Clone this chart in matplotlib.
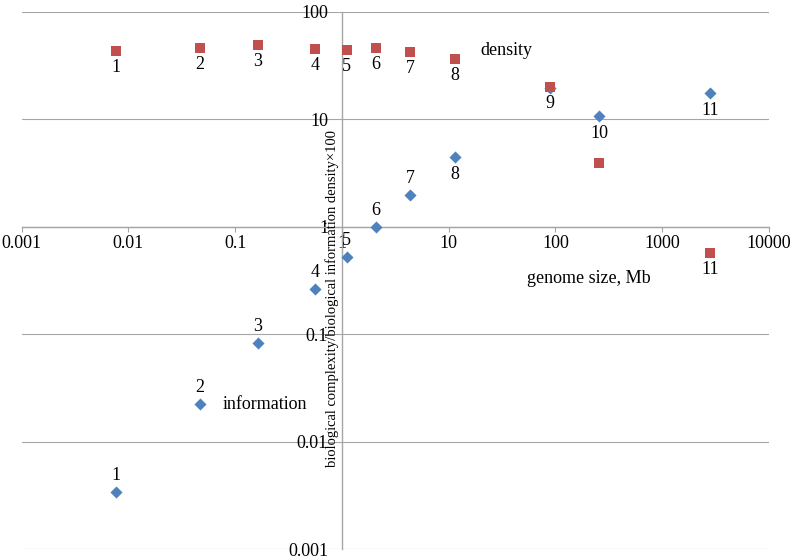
import numpy as np
import matplotlib
matplotlib.use("Agg")
import matplotlib.pyplot as plt

# ---------------------------------------------------------------------------
# Daten
# ---------------------------------------------------------------------------
genome_mb = [0.0077, 0.047, 0.163, 0.558, 1.11, 2.07, 4.37, 11.5, 88, 257, 2794]
density = [43.6, 46.2, 49.0, 45.5, 44.3, 46.6, 42.6, 36.5, 20.2, 3.93, 0.574]
information = [0.0034, 0.0224, 0.0822, 0.264, 0.527, 1.0, 1.98, 4.43, 19.7, 10.8, 17.5]
point_labels = ["1", "2", "3", "4", "5", "6", "7", "8", "9", "10", "11"]

x_ticks = [0.001, 0.01, 0.1, 1, 10, 100, 1000, 10000]
x_ticklabels = ["0.001", "0.01", "0.1", "1", "10", "100", "1000", "10000"]
y_ticks = [0.001, 0.01, 0.1, 1, 10, 100]
y_ticklabels = ["0.001", "0.01", "0.1", "1", "10", "100"]

RED = "#C0504D"
BLUE = "#4F81BD"
GREY = "#A6A6A6"

plt.rcParams["font.family"] = ["Liberation Serif", "DejaVu Serif"]

fig = plt.figure(figsize=(7.93, 5.57), dpi=100)
ax = fig.add_axes([21.7 / 793, 8 / 557, 747.3 / 793, 537 / 557])
ax.set_xscale("log")
ax.set_yscale("log")
ax.set_xlim(0.001, 10000)
ax.set_ylim(0.001, 100)

for s in ("top", "right"):
    ax.spines[s].set_visible(False)
ax.spines["left"].set_position(("data", 1))
ax.spines["bottom"].set_position(("data", 1))
for s in ("left", "bottom"):
    ax.spines[s].set_color(GREY)
    ax.spines[s].set_linewidth(1.0)

ax.set_xticks(x_ticks, x_ticklabels)
ax.set_yticks(y_ticks, y_ticklabels)
ax.minorticks_off()
ax.tick_params(axis="x", direction="out", length=3.6, width=0.8, color=GREY,
               pad=2, labelsize=13)
ax.tick_params(axis="y", length=0, pad=10, labelsize=13)
ax.grid(axis="y", color=GREY, linewidth=0.8)
ax.set_axisbelow(True)

ax.scatter(genome_mb, information, marker="D", s=38, color=BLUE, zorder=3,
           linewidths=0)
ax.scatter(genome_mb, density, marker="s", s=60, color=RED, zorder=4,
           linewidths=0)

# Nummern an den Punkten (9 und 10 nur einmal beschriftet)
for i, lab in enumerate(point_labels):
    if i != 9:
        ax.annotate(lab, (genome_mb[i], density[i]), xytext=(0, -12),
                    textcoords="offset points", ha="center", va="center",
                    fontsize=13)
    if i == 8:
        continue
    dy = 12 if i < 7 else -12.5
    ax.annotate(lab, (genome_mb[i], information[i]), xytext=(0, dy),
                textcoords="offset points", ha="center", va="center",
                fontsize=13)

ax.text(35, 44, "density", ha="center", va="center", fontsize=13)
ax.text(0.191, 0.0222, "information", ha="center", va="center", fontsize=13)
ax.text(203, 0.327, "genome size, Mb", ha="center", va="center", fontsize=13)
ax.text(0.8, 0.215, "biological complexity/biological information density\u00d7100",
        rotation=90, ha="center", va="center", fontsize=10.5)

fig.savefig("out.png", dpi=100)
